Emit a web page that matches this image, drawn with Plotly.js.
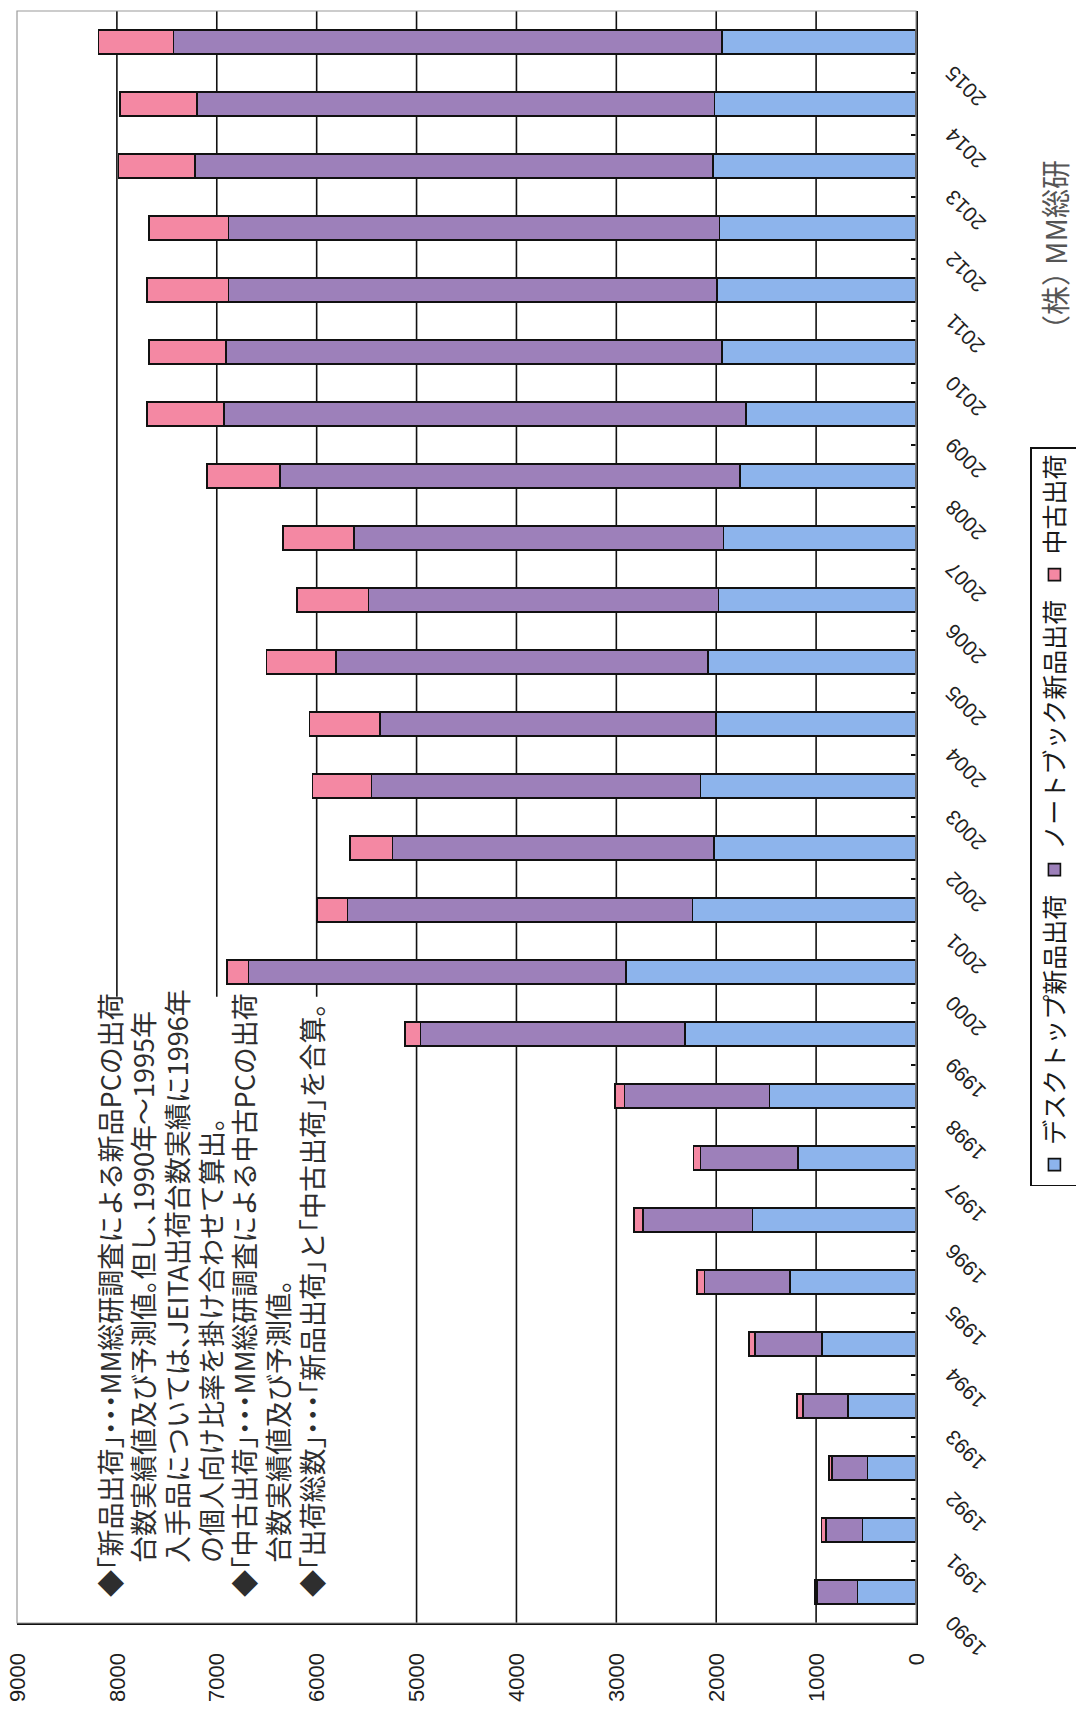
<!DOCTYPE html>
<html>
<head>
<meta charset="utf-8">
<script src="https://cdn.plot.ly/plotly-3.0.1.min.js"></script>
<style>
  html, body { margin: 0; padding: 0; background: #ffffff; overflow: hidden; }
  body { width: 1076px; height: 1709px; position: relative; }
  /* The chart is laid out landscape and turned a quarter turn counter-clockwise */
  #chart {
    position: absolute; left: 0; top: 0;
    width: 1709px; height: 1076px;
    transform-origin: 0 0;
    transform: translate(0px, 1709px) rotate(-90deg);
  }
  /* half-width brackets and dots in the Japanese notes */
  #chart .annotation-text { font-feature-settings: "halt" 1; }
</style>
</head>
<body>
<div id="chart"></div>
<script>
// Shipments per year (thousand units)
const years = ['1990','1991','1992','1993','1994','1995','1996','1997','1998','1999',
               '2000','2001','2002','2003','2004','2005','2006','2007','2008','2009',
               '2010','2011','2012','2013','2014','2015'];
const desktop  = [587, 537, 487, 681, 943, 1262, 1638, 1181, 1467, 2310,
                  2906, 2238, 2020, 2156, 2000, 2085, 1976, 1929, 1763, 1700,
                  1940, 1993, 1966, 2034, 2017, 1940];
const notebook = [403, 362, 352, 450, 671, 855, 1093, 976, 1453, 2652,
                  3778, 3455, 3220, 3294, 3365, 3721, 3507, 3697, 4602, 5228,
                  4966, 4890, 4917, 5184, 5179, 5493];
const used     = [20, 47, 33, 60, 57, 78, 95, 72, 94, 156,
                  216, 298, 427, 593, 706, 696, 711, 710, 730, 772,
                  772, 817, 795, 764, 772, 750];

const seriesNames = ['デスクトップ新品出荷', 'ノートブック新品出荷', '中古出荷'];
const valueTicks = [0, 1000, 2000, 3000, 4000, 5000, 6000, 7000, 8000, 9000];
const noteLines = [
  '◆「新品出荷」・・・MM総研調査による新品PCの出荷',
  '台数実績値及び予測値。但し、1990年～1995年',
  '入手品については、JEITA出荷台数実績に1996年',
  'の個人向け比率を掛け合わせて算出。',
  '◆「中古出荷」・・・MM総研調査による中古PCの出荷',
  '台数実績値及び予測値。',
  '◆「出荷総数」・・・「新品出荷」と「中古出荷」を合算。'
];
const creditText = '（株） MM総研';

const colors = ['#8db4ec', '#9d80ba', '#f488a3'];
const JP = '"Noto Sans CJK JP", "Noto Sans", sans-serif';
const NUM = '"Liberation Sans", Arial, sans-serif';

const traces = [desktop, notebook, used].map((vals, i) => ({
  type: 'bar',
  name: seriesNames[i],
  x: years,
  y: vals,
  marker: { color: colors[i], line: { color: '#111111', width: 1.6 } },
  hoverinfo: 'skip'
}));

// value grid lines (the top edge keeps the light frame instead)
const gridShapes = valueTicks.slice(1, -1).map(v => ({
  type: 'line', xref: 'paper', x0: 0, x1: 1, yref: 'y', y0: v, y1: v,
  line: { color: '#111111', width: 1.6 }, layer: 'below'
}));

const shapes = gridShapes.concat([
  // white panel behind the notes
  { type: 'rect', xref: 'x', x0: -0.5, x1: 9.6, yref: 'y', y0: 5060, y1: 9000,
    fillcolor: '#ffffff', line: { width: 0 }, layer: 'between' },
  // light outer frame
  { type: 'rect', xref: 'paper', x0: 0, x1: 1, yref: 'paper', y0: 0, y1: 1,
    line: { color: '#9a9a9a', width: 1.2 }, layer: 'above' }
]);

const annotations = noteLines.map((t, i) => ({
  xref: 'paper', yref: 'paper', x: 0, y: 1,
  xanchor: 'left', yanchor: 'middle',
  xshift: t.startsWith('◆') ? 24 : 58,
  yshift: -(92 + 33.7 * i),
  text: t, showarrow: false, align: 'left',
  font: { family: JP, size: 27, color: '#2e2e2e' }
}));

annotations.push({
  xref: 'paper', yref: 'paper', x: 0.855, y: -0.153,
  xanchor: 'center', yanchor: 'middle',
  text: creditText, showarrow: false,
  font: { family: JP, size: 29, color: '#555555' }
});

const layout = {
  width: 1709, height: 1076,
  margin: { l: 86, r: 11, t: 17, b: 160, autoexpand: false },
  paper_bgcolor: '#ffffff', plot_bgcolor: '#ffffff',
  barmode: 'stack', bargap: 0.62,
  showlegend: true,
  legend: {
    orientation: 'h', traceorder: 'normal',
    x: 0.271, y: -0.127, xanchor: 'left', yanchor: 'top',
    bordercolor: '#111111', borderwidth: 1.5, bgcolor: '#ffffff',
    font: { family: JP, size: 25, color: '#1a1a1a' },
    itemwidth: 30
  },
  xaxis: {
    type: 'category', range: [-0.5, 25.5],
    tickson: 'boundaries', ticks: 'inside', ticklen: 5, tickwidth: 1.5, tickcolor: '#111111',
    tickangle: -45, ticklabelstandoff: 14, ticklabelshift: -30,
    tickfont: { family: NUM, size: 21, color: '#222222' },
    showline: true, linecolor: '#111111', linewidth: 2,
    showgrid: false, zeroline: false, fixedrange: true, automargin: false
  },
  yaxis: {
    range: [0, 9000],
    tickmode: 'array', tickvals: valueTicks, ticktext: valueTicks.map(String),
    ticks: '', ticklabelstandoff: 24,
    tickfont: { family: NUM, size: 22, color: '#1e1e1e' },
    showline: true, linecolor: '#111111', linewidth: 1.6,
    showgrid: false, zeroline: false, fixedrange: true, automargin: false
  },
  shapes: shapes,
  annotations: annotations
};

Plotly.newPlot('chart', traces, layout, { staticPlot: true, displayModeBar: false });
</script>
</body>
</html>
